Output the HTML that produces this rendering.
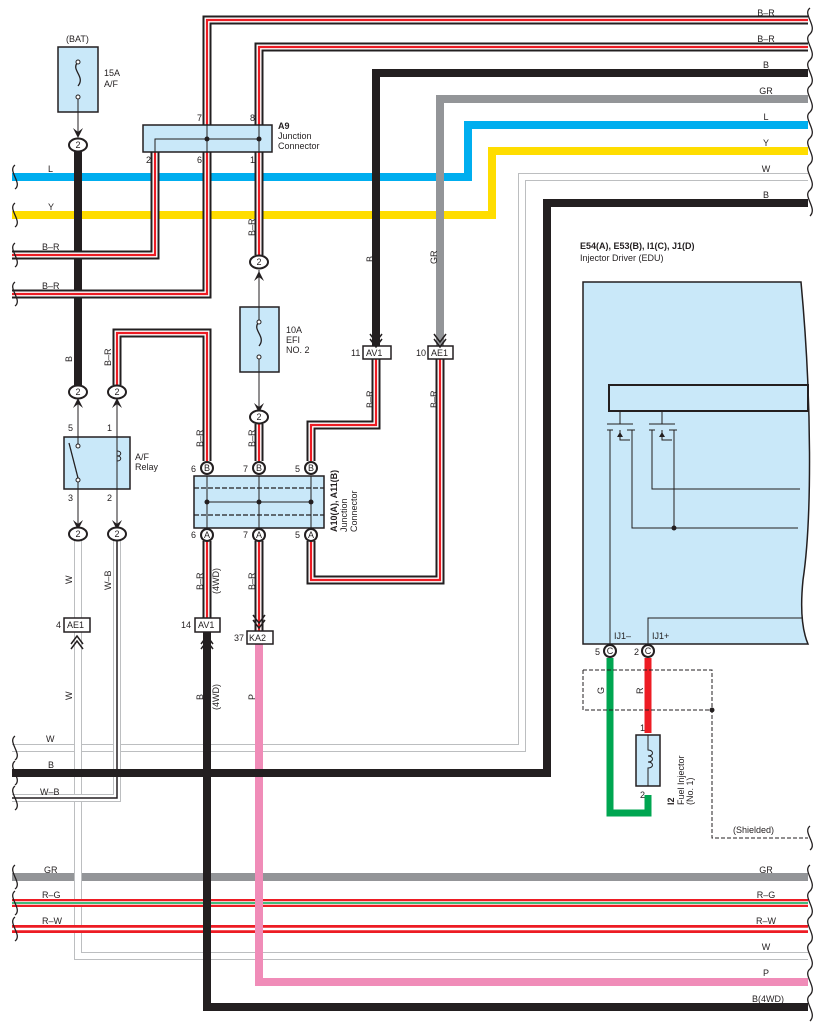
<!DOCTYPE html>
<html><head><meta charset="utf-8"><style>
body{margin:0;background:#fff}
svg{display:block}
text{font-family:"Liberation Sans",sans-serif;font-size:9px;fill:#231f20}
.k{fill:none;stroke:#231f20;stroke-width:9}
.w6{fill:none;stroke:#fff;stroke-width:5}
.r2{fill:none;stroke:#ed1c24;stroke-width:2.2}
.bk{fill:none;stroke:#231f20;stroke-width:8}
.th{fill:none;stroke:#231f20;stroke-width:1}
.wg{fill:none;stroke:#bcbec0;stroke-width:8}
.ww{fill:none;stroke:#fff;stroke-width:6}
</style></head><body>
<svg width="818" height="1030" viewBox="0 0 818 1030" xmlns="http://www.w3.org/2000/svg">
<defs>
<path id="p1" d="M808 20H207V294H12"/>
<path id="p2" d="M808 47H259V255"/>
<path id="p3" d="M155 152V255H12"/>
<path id="p4" d="M117 385V333H207V461"/>
<path id="p6" d="M259 424V461"/>
<path id="p7" d="M311 461V425H376V359"/>
<path id="p8" d="M311 541V580H440V359"/>
<path id="p9" d="M207 541V618"/>
<path id="p10" d="M259 541V631"/>
<path id="wA" d="M808 177H522V748H12"/>
<path id="wB" d="M78 632V956H808"/>
<path id="wC" d="M78 541V618"/>
<path id="wD" d="M117 541V798H12"/>
</defs>
<path d="M12 177H468V125H808" fill="none" stroke="#00aeef" stroke-width="8"/>
<path d="M12 215H492V151H808" fill="none" stroke="#ffdd00" stroke-width="8"/>
<path d="M808 99H440V346" fill="none" stroke="#939598" stroke-width="8"/>
<path d="M12 877H808" fill="none" stroke="#939598" stroke-width="8"/>
<use href="#wA" class="wg"/><use href="#wA" class="ww"/>
<use href="#wB" class="wg"/><use href="#wB" class="ww"/>
<use href="#wC" class="wg"/><use href="#wC" class="ww"/>
<use href="#wD" class="wg"/><use href="#wD" class="ww"/>
<path d="M117 541V798H12" fill="none" stroke="#231f20" stroke-width="1.5"/>
<path d="M12 903H808" stroke="#ed1c24" stroke-width="8"/>
<path d="M12 903H808" stroke="#fff" stroke-width="3.5"/>
<path d="M12 903H808" stroke="#00a651" stroke-width="1.5"/>
<path d="M12 929H808" stroke="#ed1c24" stroke-width="8"/>
<path d="M12 929H808" stroke="#fff" stroke-width="2.5"/>
<path d="M259 644V982H808" fill="none" stroke="#f08cb8" stroke-width="8"/>
<path d="M808 73H376V346" class="bk"/>
<path d="M78 152V385" class="bk"/>
<path d="M808 203H547V773H12" class="bk"/>
<path d="M207 632V1007H808" class="bk"/>
<g>
<use href="#p1" class="k"/><use href="#p1" class="w6"/><use href="#p1" class="r2"/>
<use href="#p2" class="k"/><use href="#p2" class="w6"/><use href="#p2" class="r2"/>
<use href="#p3" class="k"/><use href="#p3" class="w6"/><use href="#p3" class="r2"/>
<use href="#p4" class="k"/><use href="#p4" class="w6"/><use href="#p4" class="r2"/>
<use href="#p6" class="k"/><use href="#p6" class="w6"/><use href="#p6" class="r2"/>
<use href="#p7" class="k"/><use href="#p7" class="w6"/><use href="#p7" class="r2"/>
<use href="#p8" class="k"/><use href="#p8" class="w6"/><use href="#p8" class="r2"/>
<use href="#p9" class="k"/><use href="#p9" class="w6"/><use href="#p9" class="r2"/>
<use href="#p10" class="k"/><use href="#p10" class="w6"/><use href="#p10" class="r2"/>
</g>
<path d="M610 658V813H648V795" fill="none" stroke="#00a651" stroke-width="7"/>
<path d="M648 658V733" fill="none" stroke="#ed1c24" stroke-width="7"/>
<path d="M583 670H712V838H808M583 670V710H712" fill="none" stroke="#231f20" stroke-width="1" stroke-dasharray="4 2"/>
<circle cx="712" cy="710" r="2.5" fill="#231f20"/>

<rect x="58" y="47" width="40" height="65" fill="#c9e8f9" stroke="#231f20" stroke-width="1.5"/>
<path d="M78 62c-8 8 8 14 0 24" fill="none" stroke="#231f20" stroke-width="1.3"/>
<circle cx="78" cy="62" r="2" fill="#fff" stroke="#231f20"/><circle cx="78" cy="97" r="2" fill="#fff" stroke="#231f20"/>
<path d="M78 99V132" class="th"/>
<path d="M73 128l5 10 5-10-5 4z" fill="#231f20"/>
<text x="66" y="42">(BAT)</text><text x="104" y="76">15A</text><text x="104" y="87">A/F</text>
<rect x="143" y="125" width="129" height="27" fill="#c9e8f9" stroke="#231f20" stroke-width="1.5"/>
<path d="M155 152V139H259M207 125V152M259 125V152" class="th"/>
<circle cx="207" cy="139" r="2.5" fill="#231f20"/><circle cx="259" cy="139" r="2.5" fill="#231f20"/>
<text x="197" y="121">7</text><text x="250" y="121">8</text><text x="146" y="163">2</text><text x="197" y="163">6</text><text x="250" y="163">1</text>
<text x="278" y="129" font-weight="bold">A9</text><text x="278" y="139">Junction</text><text x="278" y="149">Connector</text>
<rect x="240" y="307" width="39" height="65" fill="#c9e8f9" stroke="#231f20" stroke-width="1.5"/>
<path d="M259 322c-8 8 8 14 0 24" fill="none" stroke="#231f20" stroke-width="1.3"/>
<circle cx="259" cy="322" r="2" fill="#fff" stroke="#231f20"/><circle cx="259" cy="357" r="2" fill="#fff" stroke="#231f20"/>
<path d="M259 270V320M259 359V410" class="th"/>
<path d="M254 281l5-10 5 10-5-4z" fill="#231f20"/><path d="M254 403l5 10 5-10-5 4z" fill="#231f20"/>
<text x="286" y="333">10A</text><text x="286" y="343">EFI</text><text x="286" y="353">NO. 2</text>
<rect x="64" y="437" width="66" height="52" fill="#c9e8f9" stroke="#231f20" stroke-width="1.5"/>
<path d="M78 399V448M78 480V527M117 399V527" class="th"/>
<path d="M69 443L78 478" stroke="#231f20" stroke-width="1.3"/>
<circle cx="78" cy="446" r="2" fill="#fff" stroke="#231f20"/><circle cx="78" cy="480" r="2" fill="#fff" stroke="#231f20"/>
<path d="M117 451c5 0 5 5 0 5c5 0 5 5 0 5" fill="none" stroke="#231f20"/>
<path d="M73 408l5-10 5 10-5-4zM112 408l5-10 5 10-5-4zM73 520l5 10 5-10-5 4zM112 520l5 10 5-10-5 4z" fill="#231f20"/>
<text x="68" y="431">5</text><text x="107" y="431">1</text><text x="68" y="501">3</text><text x="107" y="501">2</text>
<text x="135" y="460">A/F</text><text x="135" y="470">Relay</text>
<rect x="194" y="476" width="130" height="52" fill="#c9e8f9" stroke="#231f20" stroke-width="1.5"/>
<path d="M194 488H324M194 515H324" stroke="#231f20" stroke-width="1.2" stroke-dasharray="5 2"/>
<path d="M207 476V528M259 476V528M311 476V528M207 502H311" class="th"/>
<circle cx="207" cy="502" r="2.5" fill="#231f20"/><circle cx="259" cy="502" r="2.5" fill="#231f20"/><circle cx="311" cy="502" r="2.5" fill="#231f20"/>
<g font-size="9">
<text x="191" y="472">6</text><text x="243" y="472">7</text><text x="295" y="472">5</text>
<text x="191" y="538">6</text><text x="243" y="538">7</text><text x="295" y="538">5</text>
</g>
<text transform="translate(337,532) rotate(-90)" font-weight="bold">A10(A), A11(B)</text>
<text transform="translate(347,532) rotate(-90)">Junction</text>
<text transform="translate(357,532) rotate(-90)">Connector</text>
<g fill="#fff" stroke="#231f20" stroke-width="2">
<circle cx="207" cy="468" r="6"/><circle cx="259" cy="468" r="6"/><circle cx="311" cy="468" r="6"/>
<circle cx="207" cy="535" r="6"/><circle cx="259" cy="535" r="6"/><circle cx="311" cy="535" r="6"/>
<circle cx="610" cy="651" r="6"/><circle cx="648" cy="651" r="6"/>
<ellipse cx="78" cy="145" rx="9" ry="6.5"/><ellipse cx="259" cy="262" rx="9" ry="6.5"/>
<ellipse cx="78" cy="392" rx="9" ry="6.5"/><ellipse cx="117" cy="392" rx="9" ry="6.5"/>
<ellipse cx="259" cy="417" rx="9" ry="6.5"/>
<ellipse cx="78" cy="534" rx="9" ry="6.5"/><ellipse cx="117" cy="534" rx="9" ry="6.5"/>
</g>
<g text-anchor="middle" font-size="9">
<text x="207" y="471">B</text><text x="259" y="471">B</text><text x="311" y="471">B</text>
<text x="207" y="538">A</text><text x="259" y="538">A</text><text x="311" y="538">A</text>
<text x="610" y="654">C</text><text x="648" y="654">C</text>
<text x="78" y="148">2</text><text x="259" y="265">2</text><text x="78" y="395">2</text><text x="117" y="395">2</text>
<text x="259" y="420">2</text><text x="78" y="537">2</text><text x="117" y="537">2</text>
</g>
<g fill="#fff" stroke="#231f20" stroke-width="1.5">
<rect x="363" y="346" width="28" height="13"/><rect x="428" y="346" width="25" height="13"/>
<rect x="64" y="618" width="26" height="14"/><rect x="195" y="618" width="25" height="14"/>
<rect x="247" y="631" width="26" height="13"/>
</g>
<g font-size="9">
<text x="366" y="356">AV1</text><text x="431" y="356">AE1</text><text x="67" y="628">AE1</text>
<text x="198" y="628">AV1</text><text x="249" y="641">KA2</text>
<text x="351" y="356">11</text><text x="416" y="356">10</text><text x="56" y="628">4</text>
<text x="181" y="628">14</text><text x="234" y="641">37</text>
</g>
<path d="M370 334l6 8 6-8M370 339l6 8 6-8M434 334l6 8 6-8M434 339l6 8 6-8M253 620l6 8 6-8M253 615l6 8 6-8" fill="none" stroke="#231f20" stroke-width="1.5"/>
<path d="M71 644l6-8 6 8M71 649l6-8 6 8M201 644l6-8 6 8M201 649l6-8 6 8" fill="none" stroke="#231f20" stroke-width="1.5"/>

<path d="M583 282H801C812 400 812 520 803 580C800 610 802 630 808 644H583Z" fill="#c9e8f9" stroke="#231f20" stroke-width="1.5"/>
<text x="580" y="249" font-weight="bold">E54(A), E53(B), I1(C), J1(D)</text>
<text x="580" y="261">Injector Driver (EDU)</text>
<rect x="609" y="385" width="199" height="26" fill="none" stroke="#231f20" stroke-width="2"/>
<g stroke="#231f20" stroke-width="1" fill="none">
<path d="M620 411V424M607 424H633M662 411V424M649 424H675"/>
<path d="M607 430H613M610 430V645M627 430H635M632 430V528H798M630 440H620V430"/>
<path d="M649 430H655M652 430V489H800M669 430H677M674 430V528M672 440H662V430"/>
<path d="M648 645V618H802"/>
</g>
<path d="M617 437h6l-3-5z M659 437h6l-3-5z" fill="#231f20"/>
<circle cx="674" cy="528" r="2.5" fill="#231f20"/>
<text x="614" y="639">IJ1–</text><text x="652" y="639">IJ1+</text>
<text x="595" y="655">5</text><text x="634" y="655">2</text>
<rect x="636" y="735" width="24" height="51" fill="#c9e8f9" stroke="#231f20" stroke-width="1.5"/>
<path d="M648 735V750c6 0 6 6 0 6c6 0 6 6 0 6c6 0 6 6 0 6V786" fill="none" stroke="#231f20"/>
<text x="640" y="731">1</text><text x="640" y="798">2</text>
<text transform="translate(674,805) rotate(-90)" font-weight="bold">I2</text>
<text transform="translate(684,805) rotate(-90)">Fuel Injector</text>
<text transform="translate(693,805) rotate(-90)">(No. 1)</text>
<text x="733" y="833">(Shielded)</text>

<g>
<text transform="translate(72,362) rotate(-90)">B</text>
<text transform="translate(111,366) rotate(-90)">B–R</text>
<text transform="translate(255,236) rotate(-90)">B–R</text>
<text transform="translate(373,262) rotate(-90)">B</text>
<text transform="translate(437,264) rotate(-90)">GR</text>
<text transform="translate(203,447) rotate(-90)">B–R</text>
<text transform="translate(255,447) rotate(-90)">B–R</text>
<text transform="translate(373,408) rotate(-90)">B–R</text>
<text transform="translate(437,408) rotate(-90)">B–R</text>
<text transform="translate(72,584) rotate(-90)">W</text>
<text transform="translate(111,590) rotate(-90)">W–B</text>
<text transform="translate(203,590) rotate(-90)">B–R</text>
<text transform="translate(219,594) rotate(-90)">(4WD)</text>
<text transform="translate(255,590) rotate(-90)">B–R</text>
<text transform="translate(72,700) rotate(-90)">W</text>
<text transform="translate(203,700) rotate(-90)">B</text>
<text transform="translate(219,710) rotate(-90)">(4WD)</text>
<text transform="translate(255,700) rotate(-90)">P</text>
<text transform="translate(604,694) rotate(-90)">G</text>
<text transform="translate(643,694) rotate(-90)">R</text>
</g>
<g>
<text x="48" y="172">L</text><text x="48" y="210">Y</text><text x="42" y="250">B–R</text><text x="42" y="289">B–R</text>
<text x="46" y="742">W</text><text x="48" y="768">B</text><text x="40" y="795">W–B</text>
<text x="44" y="873">GR</text><text x="42" y="898">R–G</text><text x="42" y="924">R–W</text>
</g>
<g text-anchor="middle">
<text x="766" y="16">B–R</text><text x="766" y="42">B–R</text><text x="766" y="68">B</text><text x="766" y="94">GR</text>
<text x="766" y="120">L</text><text x="766" y="146">Y</text><text x="766" y="172">W</text><text x="766" y="198">B</text>
<text x="766" y="873">GR</text><text x="766" y="898">R–G</text><text x="766" y="924">R–W</text>
<text x="766" y="950">W</text><text x="766" y="976">P</text><text x="768" y="1002">B(4WD)</text>
</g>
<g fill="none" stroke="#231f20" stroke-width="1.3">
<path d="M15 165c-8 6 8 18 0 24M15 203c-8 6 8 18 0 24M15 243c-8 6 8 18 0 24M15 282c-8 6 8 18 0 24M15 736c-8 6 8 18 0 24M15 761c-8 6 8 18 0 24M15 786c-8 6 8 18 0 24M15 865c-8 6 8 18 0 24M15 891c-8 6 8 18 0 24M15 917c-8 6 8 18 0 24"/>
<path d="M810 8c-8 6 8 18 0 26c-8 6 8 18 0 26c-8 6 8 18 0 26c-8 6 8 18 0 26c-8 6 8 18 0 26c-8 6 8 18 0 26c-8 6 8 18 0 26c-8 6 8 18 0 26"/>
<path d="M810 826c-8 6 8 18 0 24"/>
<path d="M810 865c-8 6 8 18 0 26c-8 6 8 18 0 26c-8 6 8 18 0 26c-8 6 8 18 0 26c-8 6 8 18 0 26c-8 6 8 18 0 26"/>
</g>
</svg>
</body></html>
